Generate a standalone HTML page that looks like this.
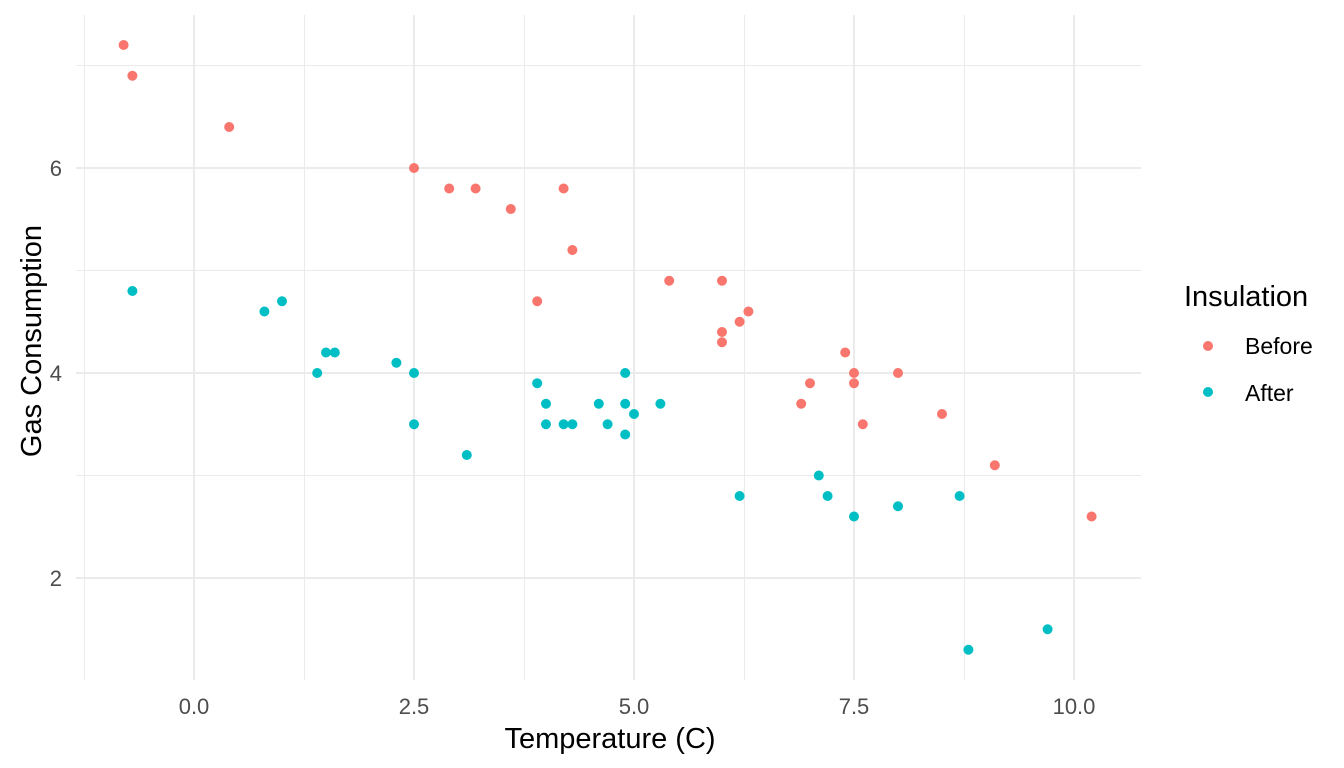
<!DOCTYPE html>
<html><head><meta charset="utf-8"><style>
html,body{margin:0;padding:0;background:#fff;}
svg{display:block;font-family:"Liberation Sans",Arial,sans-serif;}
</style></head><body>
<svg width="1344" height="768" viewBox="0 0 1344 768">
<g stroke="#EBEBEB" stroke-width="1">
<line x1="76" x2="1141" y1="65.5" y2="65.5"/><line x1="76" x2="1141" y1="270.5" y2="270.5"/><line x1="76" x2="1141" y1="475.5" y2="475.5"/>
<line y1="15" y2="680" x1="84.5" x2="84.5"/><line y1="15" y2="680" x1="304.5" x2="304.5"/><line y1="15" y2="680" x1="524.5" x2="524.5"/><line y1="15" y2="680" x1="744.5" x2="744.5"/><line y1="15" y2="680" x1="964.5" x2="964.5"/>
</g>
<g stroke="#EBEBEB" stroke-width="2">
<line x1="76" x2="1141" y1="168" y2="168"/><line x1="76" x2="1141" y1="373" y2="373"/><line x1="76" x2="1141" y1="578" y2="578"/>
<line y1="15" y2="680" x1="194" x2="194"/><line y1="15" y2="680" x1="414" x2="414"/><line y1="15" y2="680" x1="634" x2="634"/><line y1="15" y2="680" x1="854" x2="854"/><line y1="15" y2="680" x1="1074" x2="1074"/>
</g>
<g transform="translate(-1,0)">
<g fill="#F8766D">
<circle cx="124.6" cy="45" r="5"/><circle cx="133.4" cy="75.75" r="5"/><circle cx="230.2" cy="127" r="5"/><circle cx="415" cy="168" r="5"/><circle cx="450.2" cy="188.5" r="5"/><circle cx="476.6" cy="188.5" r="5"/><circle cx="511.8" cy="209" r="5"/><circle cx="538.2" cy="301.25" r="5"/><circle cx="564.6" cy="188.5" r="5"/><circle cx="573.4" cy="250" r="5"/><circle cx="670.2" cy="280.75" r="5"/><circle cx="723" cy="280.75" r="5"/><circle cx="723" cy="342.25" r="5"/><circle cx="723" cy="332" r="5"/><circle cx="740.6" cy="321.75" r="5"/><circle cx="749.4" cy="311.5" r="5"/><circle cx="802.2" cy="403.75" r="5"/><circle cx="811" cy="383.25" r="5"/><circle cx="846.2" cy="352.5" r="5"/><circle cx="855" cy="373" r="5"/><circle cx="855" cy="383.25" r="5"/><circle cx="863.8" cy="424.25" r="5"/><circle cx="899" cy="373" r="5"/><circle cx="943" cy="414" r="5"/><circle cx="995.8" cy="465.25" r="5"/><circle cx="1092.6" cy="516.5" r="5"/>
</g>
<g fill="#00BFC4">
<circle cx="133.4" cy="291" r="5"/><circle cx="265.4" cy="311.5" r="5"/><circle cx="283" cy="301.25" r="5"/><circle cx="318.2" cy="373" r="5"/><circle cx="327" cy="352.5" r="5"/><circle cx="335.8" cy="352.5" r="5"/><circle cx="397.4" cy="362.75" r="5"/><circle cx="415" cy="373" r="5"/><circle cx="415" cy="424.25" r="5"/><circle cx="467.8" cy="455" r="5"/><circle cx="538.2" cy="383.25" r="5"/><circle cx="547" cy="424.25" r="5"/><circle cx="547" cy="403.75" r="5"/><circle cx="564.6" cy="424.25" r="5"/><circle cx="573.4" cy="424.25" r="5"/><circle cx="599.8" cy="403.75" r="5"/><circle cx="608.6" cy="424.25" r="5"/><circle cx="626.2" cy="434.5" r="5"/><circle cx="626.2" cy="403.75" r="5"/><circle cx="626.2" cy="373" r="5"/><circle cx="635" cy="414" r="5"/><circle cx="661.4" cy="403.75" r="5"/><circle cx="740.6" cy="496" r="5"/><circle cx="819.8" cy="475.5" r="5"/><circle cx="828.6" cy="496" r="5"/><circle cx="855" cy="516.5" r="5"/><circle cx="899" cy="506.25" r="5"/><circle cx="960.6" cy="496" r="5"/><circle cx="969.4" cy="649.75" r="5"/><circle cx="1048.6" cy="629.25" r="5"/>
</g>
</g>
<g fill="#4D4D4D" font-size="22" text-anchor="end">
<text x="62" y="176">6</text><text x="62" y="381">4</text><text x="62" y="586">2</text>
</g>
<g fill="#4D4D4D" font-size="22" text-anchor="middle">
<text x="194" y="714">0.0</text><text x="414" y="714">2.5</text><text x="634" y="714">5.0</text><text x="854" y="714">7.5</text><text x="1074" y="714">10.0</text>
</g>
<text x="610" y="748" font-size="29" text-anchor="middle" fill="#000">Temperature (C)</text>
<text transform="translate(41,341) rotate(-90)" font-size="29" text-anchor="middle" fill="#000">Gas Consumption</text>
<text x="1184" y="306" font-size="29" fill="#000">Insulation</text>
<circle cx="1208" cy="346" r="5" fill="#F8766D"/>
<circle cx="1208" cy="392" r="5" fill="#00BFC4"/>
<text x="1245" y="354" font-size="23" fill="#000">Before</text>
<text x="1245" y="401" font-size="23" fill="#000">After</text>
</svg>
</body></html>
